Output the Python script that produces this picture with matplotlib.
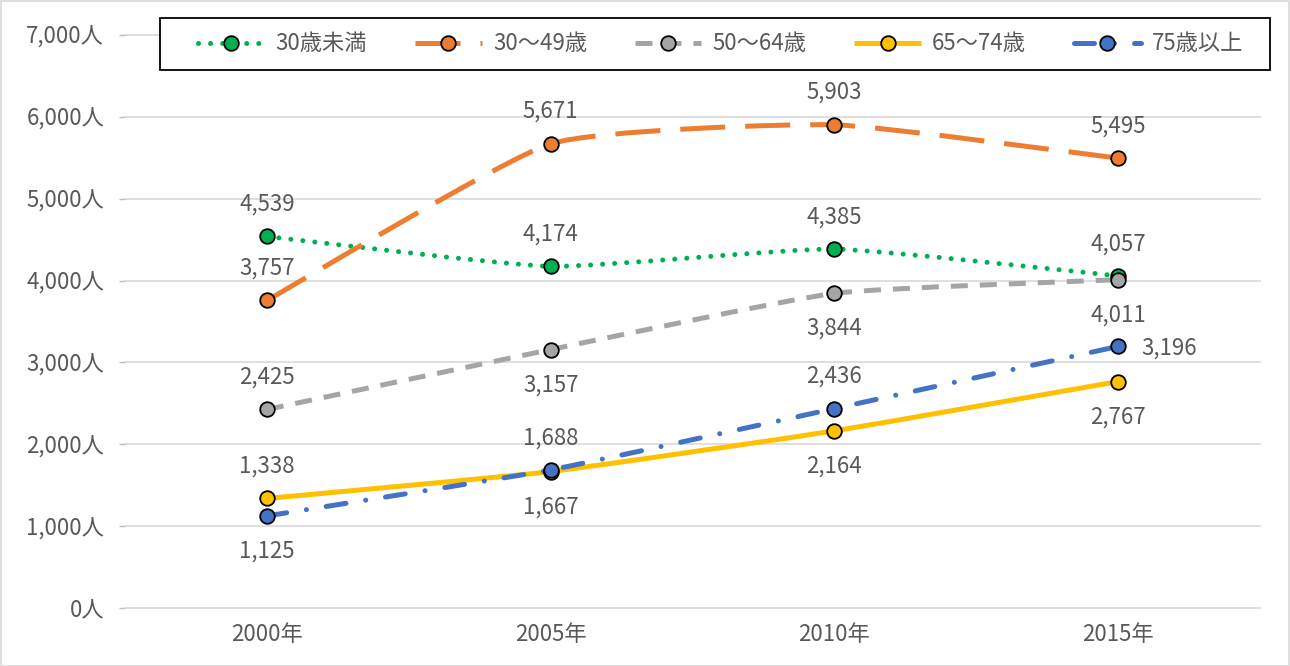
import matplotlib
matplotlib.use("Agg")
import matplotlib.pyplot as plt
from matplotlib.path import Path
from matplotlib.patches import PathPatch, Rectangle
from matplotlib.lines import Line2D
from matplotlib.ticker import FuncFormatter, FixedLocator

plt.rcParams['font.family'] = ['Noto Sans CJK JP', 'DejaVu Sans']

years = ["2000年", "2005年", "2010年", "2015年"]
series_names = ["30歳未満", "30～49歳", "50～64歳", "65～74歳", "75歳以上"]
under30 = [4539, 4174, 4385, 4057]
age30_49 = [3757, 5671, 5903, 5495]
age50_64 = [2425, 3157, 3844, 4011]
age65_74 = [1338, 1667, 2164, 2767]
age75_up = [1125, 1688, 2436, 3196]
yticks = [0, 1000, 2000, 3000, 4000, 5000, 6000, 7000]

colors = ["#00B050", "#ED7D31", "#A5A5A5", "#FFC000", "#4472C4"]
dashes = [(0.01, 2.4), (9, 4), (3.4, 2.4), None, (4, 4, 0.01, 4)]
caps = ['round', 'butt', 'butt', 'butt', 'round']
# label placement: 'a' above, 'b' below, 'r' right
placements = [
    ['a', 'a', 'a', 'a'],
    ['a', 'a', 'a', 'a'],
    ['a', 'b', 'b', 'b'],
    ['a', 'b', 'b', 'b'],
    ['b', 'a', 'a', 'r'],
]
all_series = [under30, age30_49, age50_64, age65_74, age75_up]

FS = 16
TXT = "#595959"
W, H = 1290, 666
fig = plt.figure(figsize=(W / 100, H / 100), dpi=100)
fig.patch.set_facecolor("white")
fig.add_artist(Rectangle((0.5 / W, 0.5 / H), 1 - 1.5 / W, 1 - 1.5 / H,
                         transform=fig.transFigure, fill=False,
                         edgecolor="#D9D9D9", linewidth=1.2))

ax = fig.add_axes([125 / W, (H - 608) / H, (1260 - 125) / W, (608 - 35) / H])
ax.set_xlim(-0.5, 3.5)
ax.set_ylim(0, 7000)
for s in ax.spines.values():
    s.set_visible(False)
ax.yaxis.set_major_locator(FixedLocator(yticks))
ax.yaxis.set_major_formatter(FuncFormatter(lambda v, p: f"{int(v):,}人"))
ax.set_xticks(range(len(years)))
ax.set_xticklabels(years)
ax.tick_params(axis='y', length=4, width=1, color="#BFBFBF", labelsize=FS,
               labelcolor=TXT, pad=11)
ax.tick_params(axis='x', length=0, labelsize=FS, labelcolor=TXT, pad=11)
for yv in yticks:
    ax.axhline(yv, color="#D9D9D9", linewidth=1.2, zorder=0, clip_on=False)

TENSION = 0.08


def smooth_path(xs, ys):
    pts = list(zip(xs, ys))
    n = len(pts)
    verts = [pts[0]]
    codes = [Path.MOVETO]
    for i in range(n - 1):
        p0 = pts[i - 1] if i > 0 else pts[i]
        p1 = pts[i]
        p2 = pts[i + 1]
        p3 = pts[i + 2] if i + 2 < n else pts[i + 1]
        c1 = (p1[0] + (p2[0] - p0[0]) * TENSION, p1[1] + (p2[1] - p0[1]) * TENSION)
        c2 = (p2[0] - (p3[0] - p1[0]) * TENSION, p2[1] - (p3[1] - p1[1]) * TENSION)
        verts += [c1, c2, p2]
        codes += [Path.CURVE4] * 3
    return Path(verts, codes)


LW = 3.6
MS = 10.5
xs = list(range(len(years)))
handles = []
for k, (vals, col, dsh, cap, plc) in enumerate(zip(all_series, colors, dashes, caps, placements)):
    patch = PathPatch(smooth_path(xs, vals), facecolor="none", edgecolor=col,
                      linewidth=LW, capstyle=cap, joinstyle='round', zorder=2 + k)
    if dsh is not None:
        patch.set_linestyle((0, dsh))
    ax.add_patch(patch)
    ax.plot(xs, vals, linestyle='none', marker='o', markersize=MS,
            markerfacecolor=col, markeredgecolor="black", markeredgewidth=1.3,
            zorder=10 + k)
    for x, v, p in zip(xs, vals, plc):
        if p == 'a':
            off, ha = (0, 18.5), 'center'
        elif p == 'b':
            off, ha = (0, -30), 'center'
        else:
            off, ha = (17, -6), 'left'
        ax.annotate(f"{v:,}", (x, v), xytext=off, textcoords='offset points',
                    ha=ha, va='baseline', fontsize=FS, color=TXT, zorder=20)
    h = Line2D([0], [0], color=col, linewidth=LW, marker='o', markersize=MS,
               markerfacecolor=col, markeredgecolor="black", markeredgewidth=1.3,
               solid_capstyle=cap, dash_capstyle=cap)
    if dsh is not None:
        h.set_linestyle((0, dsh))
    handles.append(h)

fig.add_artist(Rectangle((160 / W, (H - 70) / H), (1270 - 160) / W, (70 - 18) / H,
                         transform=fig.transFigure, facecolor="white",
                         edgecolor="black", linewidth=1.3, zorder=5))
leg = fig.legend(handles, series_names, loc='center left',
                 bbox_to_anchor=(198 / W, (H - 60) / H, (1243 - 198) / W, 32 / H),
                 mode='expand', ncol=5, fontsize=FS, frameon=False,
                 handlelength=3.0, handletextpad=0.5, borderpad=0,
                 borderaxespad=0, labelcolor=TXT)
leg.set_zorder(6)

fig.savefig("out.png", dpi=100)
